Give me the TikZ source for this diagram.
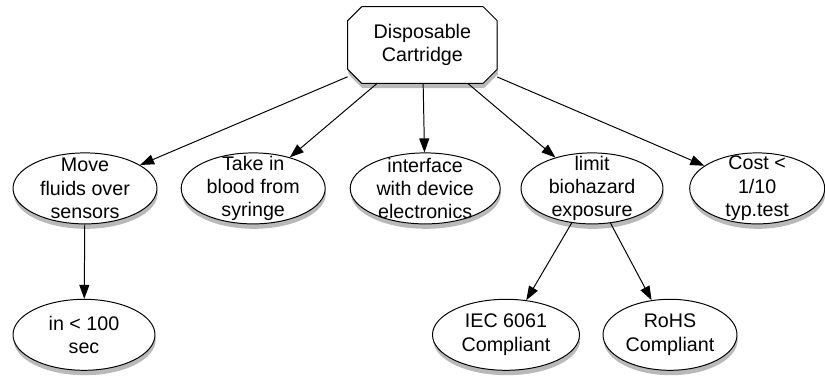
\documentclass[tikz,border=0pt]{standalone}
\usepackage{fontspec}
\setmainfont{Liberation Sans}
\usepackage{tikz}
\usetikzlibrary{shapes,arrows.meta,shadows,backgrounds}

\begin{document}
\begin{tikzpicture}[
    font=\fontsize{14}{16.6}\selectfont,
    goal/.style={rectangle, minimum width=3.725cm, minimum height=1.9cm, align=center},
    cut/.style={draw, fill=white, line width=0.7pt, line join=round,
        drop shadow={opacity=0.55, shadow xshift=0.5pt, shadow yshift=-3.5pt}},
    need/.style={ellipse, draw, fill=white, line width=0.7pt,
        inner xsep=-1cm, inner ysep=-1cm, minimum height=1.775cm, align=center,
        drop shadow={opacity=0.55, shadow xshift=0.5pt, shadow yshift=-3.5pt}},
    arr/.style={-{Triangle[length=3.5mm,width=2.5mm]}, line width=0.7pt}]

    \useasboundingbox (0,0) rectangle (20.625,9.4);

    % cartridge, box with cut corners
    \node[goal] (cart) at (10.56,8.275) {Disposable\\Cartridge};
    \begin{scope}[on background layer]
        \draw[cut] ([xshift=0.35cm]cart.north west) -- ([xshift=-0.35cm]cart.north east)
            -- ([yshift=-0.35cm]cart.north east) -- ([yshift=0.35cm]cart.south east)
            -- ([xshift=-0.35cm]cart.south east) -- ([xshift=0.35cm]cart.south west)
            -- ([yshift=0.35cm]cart.south west) -- ([yshift=-0.35cm]cart.north west) -- cycle;
    \end{scope}

    % what it has to do
    \node[need, minimum width=3.6cm] (move) at (2.125,4.69) {Move\\fluids over\\sensors};
    \node[need, minimum width=3.6cm] (blood) at (6.33,4.69) {Take in\\blood from\\syringe};
    \node[need, minimum width=3.75cm] (iface) at (10.63,4.69) {interface\\with device\\electronics};
    \node[need, minimum width=3.55cm] (bio) at (14.8,4.69) {limit\\biohazard\\exposure};
    \node[need, minimum width=3.375cm] (cost) at (18.93,4.69) {Cost <\\1/10\\typ.test};

    % details
    \node[need, minimum width=3.55cm] (time) at (2.1,1.03) {in < 100\\sec};
    \node[need, minimum width=3.675cm] (iec) at (12.65,1.03) {IEC 6061\\Compliant};
    \node[need, minimum width=3.35cm] (rohs) at (16.75,1.03) {RoHS\\Compliant};

    \draw[arr] (cart) -- (move);
    \draw[arr] (cart) -- (blood);
    \draw[arr] (cart) -- (iface);
    \draw[arr] (cart) -- (bio);
    \draw[arr] (cart) -- (cost);
    \draw[arr] (move) -- (time);
    \draw[arr] (bio) -- (iec);
    \draw[arr] (bio) -- (rohs);
\end{tikzpicture}
\end{document}
